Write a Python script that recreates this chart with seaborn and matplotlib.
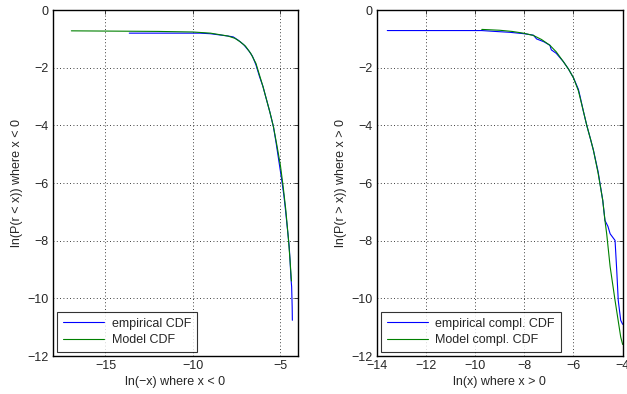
import matplotlib
matplotlib.use("Agg")
import matplotlib.pyplot as plt
import seaborn as sns
import pandas as pd

# Left panel (negative returns): CDF
left_emp_x = [-13.64, -9.6, -9.0, -8.5, -8.0, -7.7, -7.4, -7.1, -6.8, -6.6, -6.4, -6.2, -6.0, -5.8, -5.6,
              -5.4, -5.25, -5.1, -4.95, -4.8, -4.7, -4.6, -4.5, -4.45, -4.4, -4.36, -4.33, -4.32]
left_emp_y = [-0.80, -0.80, -0.82, -0.86, -0.90, -0.93, -1.05, -1.2, -1.42, -1.6, -1.9, -2.3, -2.65, -3.1, -3.55,
              -4.05, -4.6, -5.2, -5.8, -6.45, -7.0, -7.6, -8.2, -8.7, -9.3, -9.6, -10.3, -10.76]
left_mod_x = [-16.95, -12, -10, -9, -8.5, -8.0, -7.6, -7.3, -7.0, -6.7, -6.4, -6.2, -6.0, -5.8, -5.6,
              -5.4, -5.2, -5.0, -4.85, -4.7, -4.55, -4.45, -4.37]
left_mod_y = [-0.72, -0.74, -0.76, -0.8, -0.85, -0.9, -0.98, -1.1, -1.25, -1.5, -1.85, -2.25, -2.65, -3.1, -3.55,
              -4.05, -4.7, -5.4, -6.1, -6.9, -7.9, -8.7, -9.4]

# Right panel (positive returns): complementary CDF
right_emp_x = [-13.57, -9.73, -9.2, -8.6, -8.0, -7.63, -7.5, -7.2, -6.96, -6.9, -6.7, -6.41, -6.2, -6.0, -5.8,
               -5.73, -5.6, -5.46, -5.3, -5.19, -5.0, -4.81, -4.72, -4.6, -4.51, -4.31, -4.24, -4.18, -4.08, -4.0]
right_emp_y = [-0.71, -0.71, -0.74, -0.77, -0.82, -0.87, -1.0, -1.1, -1.22, -1.38, -1.5, -1.79, -2.05, -2.35, -2.75,
               -3.0, -3.5, -4.0, -4.5, -4.86, -5.6, -6.6, -7.3, -7.5, -7.76, -7.99, -9.05, -10.07, -10.76, -10.9]
right_mod_x = [-9.73, -9.0, -8.5, -8.04, -7.63, -7.3, -6.96, -6.7, -6.41, -6.2, -6.0, -5.8, -5.6, -5.46, -5.3,
               -5.19, -5.0, -4.81, -4.72, -4.65, -4.51, -4.31, -4.08, -4.0]
right_mod_y = [-0.67, -0.7, -0.74, -0.8, -0.88, -1.02, -1.22, -1.45, -1.79, -2.05, -2.35, -2.8, -3.5, -4.0, -4.5,
               -4.86, -5.65, -6.6, -7.3, -7.76, -8.9, -10.07, -11.34, -11.6]

left_xticks = [-15, -10, -5]
right_xticks = [-14, -12, -10, -8, -6, -4]
yticks = [0, -2, -4, -6, -8, -10, -12]

sns.set_style("white")
plt.rcParams['font.family'] = ['Liberation Sans', 'DejaVu Sans']
plt.rcParams['axes.unicode_minus'] = True

fig = plt.figure(figsize=(6.27, 3.94), dpi=100)
axL = fig.add_axes([0.0845, 0.0964, 0.3907, 0.878])
axR = fig.add_axes([0.6008, 0.0964, 0.3923, 0.878])

BLUE = (0, 0, 1)
GREEN = (0, 0.5, 0)
FS = 9

def panel(ax, ex, ey, mx, my, labels, xlim, xticks, xlabel, ylabel):
    sns.lineplot(x=ex, y=ey, ax=ax, sort=False, estimator=None, color=BLUE, lw=0.8, label=labels[0])
    sns.lineplot(x=mx, y=my, ax=ax, sort=False, estimator=None, color=GREEN, lw=0.8, label=labels[1])
    ax.set_xlim(*xlim)
    ax.set_ylim(-12, 0)
    ax.set_xticks(xticks)
    ax.set_yticks(yticks)
    ax.grid(True, color='black', linestyle=(0, (1, 3)), linewidth=0.6)
    ax.tick_params(direction='in', length=3, top=True, right=True, labelsize=FS, pad=3,
                   width=0.6)
    for s in ax.spines.values():
        s.set_linewidth(1.0)
        s.set_color('black')
    ax.set_xlabel(xlabel, fontsize=FS, labelpad=3)
    ax.set_ylabel(ylabel, fontsize=FS, labelpad=3)
    leg = ax.legend(loc='lower left', fontsize=FS, frameon=True, fancybox=False,
                    borderaxespad=0.35, handlelength=3.3, borderpad=0.45, labelspacing=0.35,
                    handletextpad=0.6)
    leg.get_frame().set_edgecolor('black')
    leg.get_frame().set_linewidth(0.8)

panel(axL, left_emp_x, left_emp_y, left_mod_x, left_mod_y,
      ["empirical CDF", "Model CDF"], (-18, -4), left_xticks,
      "ln(\u2212x) where x < 0", "ln(P(r < x)) where x < 0")
panel(axR, right_emp_x, right_emp_y, right_mod_x, right_mod_y,
      ["empirical compl. CDF", "Model compl. CDF"], (-14, -4), right_xticks,
      "ln(x) where x > 0", "ln(P(r > x)) where x > 0")

fig.savefig("out.png", dpi=100)
